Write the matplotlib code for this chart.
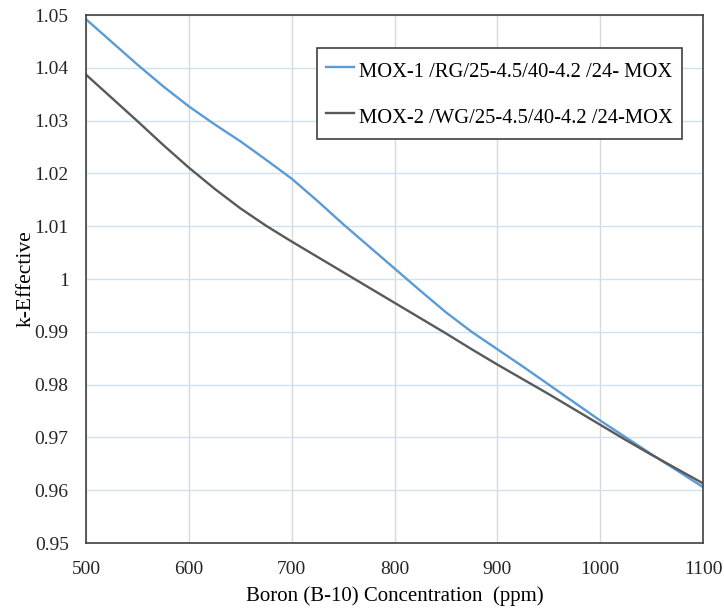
import matplotlib
matplotlib.use('Agg')
import matplotlib.pyplot as plt

# Boron concentration (ppm) and k-effective values
boron = list(range(500, 1101, 25))
k_mox1 = [1.0492, 1.0449, 1.0406, 1.0365, 1.0327, 1.0293, 1.0261, 1.0226,
          1.0190, 1.0148, 1.0104, 1.0062, 1.0020, 0.9978, 0.9937, 0.9900,
          0.9867, 0.9834, 0.9800, 0.9766, 0.9732, 0.9700, 0.9668, 0.9637,
          0.9606]
k_mox2 = [1.0387, 1.0343, 1.0299, 1.0254, 1.0211, 1.0171, 1.0134, 1.0101,
          1.0071, 1.0042, 1.0013, 0.9984, 0.9955, 0.9926, 0.9897, 0.9867,
          0.9838, 0.9810, 0.9782, 0.9753, 0.9724, 0.9695, 0.9667, 0.9640,
          0.9613]
labels = ['MOX-1 /RG/25-4.5/40-4.2 /24- MOX', 'MOX-2 /WG/25-4.5/40-4.2 /24-MOX']
yticks = [0.95, 0.96, 0.97, 0.98, 0.99, 1.0, 1.01, 1.02, 1.03, 1.04, 1.05]
ytick_labels = ['0.95', '0.96', '0.97', '0.98', '0.99', '1',
                '1.01', '1.02', '1.03', '1.04', '1.05']

plt.rcParams['font.family'] = ['Liberation Serif', 'DejaVu Serif']

fig = plt.figure(figsize=(7.24, 6.08), dpi=100)
ax = fig.add_axes([0.1188, 0.1069, 0.8522, 0.8684])

ax.plot(boron, k_mox1, color='#5b9bd5', lw=1.7, label=labels[0])
ax.plot(boron, k_mox2, color='#595959', lw=1.7, label=labels[1])

ax.set_xlim(500, 1100)
ax.set_ylim(0.95, 1.05)
ax.set_xticks(range(500, 1101, 100))
ax.set_yticks(yticks)
ax.set_yticklabels(ytick_labels)

# vertical grid grey, horizontal grid light blue
ax.xaxis.grid(True, color='#d9d9d9', lw=1)
ax.yaxis.grid(True, color='#cfe2f3', lw=1)
ax.set_axisbelow(True)

for s in ax.spines.values():
    s.set_color('#404040')
    s.set_linewidth(1.2)
ax.tick_params(length=0, labelsize=14, colors='#262626')
ax.tick_params(axis='y', pad=12.5)
ax.tick_params(axis='x', pad=13)

ax.set_xlabel('Boron (B-10) Concentration  (ppm)', fontsize=15, labelpad=6)
ax.set_ylabel('k-Effective', fontsize=15.5, labelpad=-1)

leg = ax.legend(loc='upper right', bbox_to_anchor=(0.966, 0.9375), borderaxespad=0,
                fontsize=14.8, handlelength=1.35, handleheight=1.6,
                handletextpad=0.25, labelspacing=0.95, borderpad=0.45,
                fancybox=False, framealpha=1)
leg.get_frame().set_edgecolor('#404040')
leg.get_frame().set_linewidth(1.2)

plt.savefig('out.png', dpi=100)
